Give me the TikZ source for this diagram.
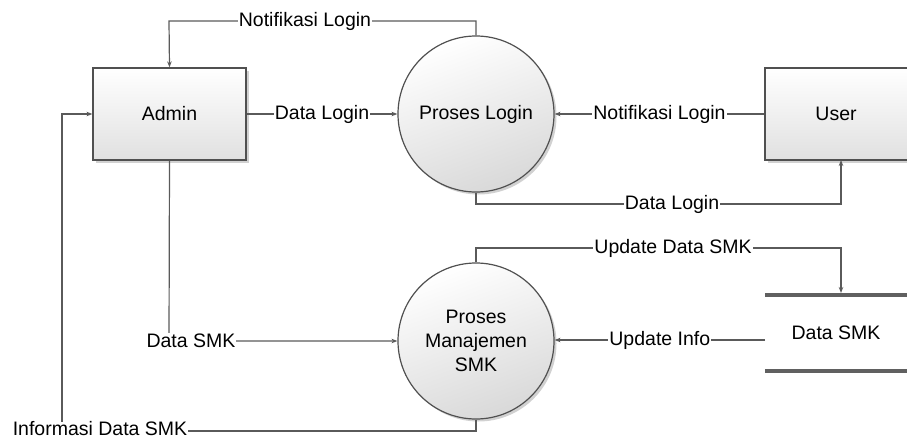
\documentclass[tikz,border=0pt]{standalone}
\usepackage{fontspec}
\setmainfont{Liberation Sans}
\usetikzlibrary{shadows,arrows.meta,shapes.geometric}
\definecolor{linec}{HTML}{5A5A5A}
\definecolor{edgec}{HTML}{505050}
\definecolor{storec}{HTML}{606060}
\begin{document}
\begin{tikzpicture}[x=1pt,y=-1pt,
  every node/.style={font=\fontsize{19.5}{24}\selectfont},
  entity/.style={draw=edgec, line width=1.2pt, rectangle, top color=white, bottom color=black!12,
    drop shadow={shadow xshift=2.5pt, shadow yshift=-2.5pt, fill=black!30, opacity=0.6}},
  proc/.style={draw=edgec, line width=1.2pt, circle, minimum size=156pt, inner sep=0pt,
    top color=white, bottom color=black!15, shading angle=20,
    drop shadow={shadow xshift=2.5pt, shadow yshift=-2.5pt, fill=black!30, opacity=0.6}, align=center},
  flow/.style={draw=linec, line width=1.2pt, -{Stealth[length=6pt,width=4.5pt]}},
  lbl/.style={fill=white, inner sep=1pt}]
\useasboundingbox (0,0) rectangle (907,439);
\node[entity, minimum width=153pt, minimum height=92pt] (admin) at (169.5,114) {Admin};
\node[entity, minimum width=155pt, minimum height=92pt] (user) at (842.5,114) {\hspace*{-13pt}User};
\node[proc] (pl) at (476,114) {Proses Login};
\node[proc] (pm) at (476,341) {Proses\\Manajemen\\SMK};
\node[minimum width=155pt, minimum height=76pt, inner sep=0pt] (ds) at (842.5,333) {\hspace*{-13pt}Data SMK};
\draw[storec, line width=4pt] (ds.north west) -- (ds.north east);
\draw[storec, line width=4pt] (ds.south west) -- (ds.south east);
% Notifikasi Login (top)
\draw[flow] (pl.north) -- (476,21) -- (169,21) node[lbl] at (305,21) {Notifikasi Login} -- (admin.north);
% Data Login (left)
\draw[flow] (admin.east) -- node[lbl] {Data Login} (pl.west);
% Notifikasi Login (right)
\draw[flow] (user.west) -- node[lbl] {Notifikasi Login} (pl.east);
% Data Login (bottom)
\draw[flow] (pl.south) -- (476,204) -- (841,204) node[lbl] at (672,204) {Data Login} -- (841,160);
% Update Data SMK
\draw[flow] (pm.north) -- (476,248) -- (841,248) node[lbl] at (673,248) {Update Data SMK} -- (841,293);
% Update Info
\draw[flow] (765,340) -- node[lbl] {Update Info} (pm.east |- 0,340);
% Data SMK
\draw[flow] (admin.south) -- (169,341) -- (pm.west) node[lbl] at (191,341) {Data SMK};
% Informasi Data SMK
\draw[flow] (pm.south) -- (476,431) -- (62,431) node[lbl, inner ysep=0pt] at (100,429) {Informasi Data SMK} -- (62,114) -- (admin.west);
\end{tikzpicture}
\end{document}
